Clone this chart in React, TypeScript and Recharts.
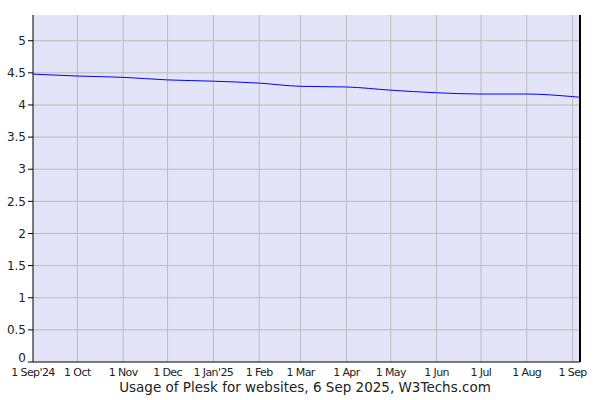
import React from 'react';
import {
  LineChart,
  Line,
  XAxis,
  YAxis,
  CartesianGrid,
  ReferenceLine,
} from 'recharts';

// Plesk usage share (% of websites)
const dates = [
  '2024-09-01', '2024-10-01', '2024-11-01', '2024-12-01', '2025-01-01', '2025-02-01',
  '2025-03-01', '2025-04-01', '2025-05-01', '2025-06-01', '2025-07-01', '2025-08-01',
  '2025-09-01', '2025-09-06',
];
const usage = [4.48, 4.45, 4.43, 4.39, 4.37, 4.34, 4.29, 4.28, 4.23, 4.19, 4.17, 4.17, 4.13, 4.12];

const tickDates = [
  '2024-09-01', '2024-10-01', '2024-11-01', '2024-12-01', '2025-01-01', '2025-02-01',
  '2025-03-01', '2025-04-01', '2025-05-01', '2025-06-01', '2025-07-01', '2025-08-01',
  '2025-09-01',
];
const tickLabels = [
  "1 Sep'24", '1 Oct', '1 Nov', '1 Dec', "1 Jan'25", '1 Feb',
  '1 Mar', '1 Apr', '1 May', '1 Jun', '1 Jul', '1 Aug', '1 Sep',
];
const yTicks = [0, 0.5, 1, 1.5, 2, 2.5, 3, 3.5, 4, 4.5, 5];

const start = Date.UTC(2024, 8, 1);
const dayOf = (s: string) => {
  const [y, m, d] = s.split('-').map(Number);
  return Math.round((Date.UTC(y, m - 1, d) - start) / 86400000);
};

const data = dates.map((d, i) => ({ day: dayOf(d), value: usage[i] }));
const xTicks = tickDates.map(dayOf);
const endDay = dayOf(dates[dates.length - 1]);

// y labels; the "0" sits a bit higher so it clears the date labels
const YTick = ({ x, y, payload }: any) => (
  <text
    x={x}
    y={payload.value === 0 ? y - 4 : y}
    dy="0.355em"
    textAnchor="end"
    fontSize={12}
    fill="#222"
    fontFamily="DejaVu Sans"
  >
    {payload.value}
  </text>
);

export default function App() {
  return (
    <div style={{ position: 'absolute', left: 0, top: 0, width: 600, height: 400, background: '#fff' }}>
      <LineChart
        width={600}
        height={400}
        data={data}
        margin={{ top: 15, right: 20, bottom: 24, left: 0 }}
      >
        <CartesianGrid fill="#e4e4f8" horizontal={false} vertical={false} />
        {yTicks.slice(1).map((t) => (
          <ReferenceLine key={`h${t}`} y={t} stroke="#bbbbbb" strokeWidth={1} />
        ))}
        {xTicks.slice(1).map((t) => (
          <ReferenceLine key={`v${t}`} x={t} stroke="#bbbbbb" strokeWidth={1} />
        ))}
        <XAxis
          type="number"
          dataKey="day"
          domain={[0, endDay]}
          ticks={xTicks}
          tickFormatter={(v: number) => tickLabels[xTicks.indexOf(v)] ?? ''}
          tickLine={false}
          axisLine={{ stroke: '#000' }}
          height={14}
          tickMargin={0}
          tick={{ fontSize: 11, fill: '#222', fontFamily: 'DejaVu Sans', letterSpacing: -0.6 }}
          interval={0}
          allowDataOverflow
        />
        <YAxis
          type="number"
          domain={[0, 5.4]}
          ticks={yTicks}
          width={33}
          tickSize={5}
          tickMargin={2}
          tickLine={{ stroke: '#000' }}
          axisLine={{ stroke: '#000' }}
          tick={<YTick />}
          interval={0}
          allowDataOverflow
        />
        <ReferenceLine x={endDay} stroke="#000" strokeWidth={2} />
        <Line
          type="monotone"
          dataKey="value"
          stroke="#0000ff"
          strokeWidth={1}
          dot={false}
          isAnimationActive={false}
        />
      </LineChart>
      <div
        style={{
          position: 'absolute',
          left: 0,
          width: 610,
          top: 380,
          textAlign: 'center',
          fontFamily: 'DejaVu Sans',
          fontSize: 13.5,
          lineHeight: '15px',
          color: '#222',
        }}
      >
        Usage of Plesk for websites, 6 Sep 2025, W3Techs.com
      </div>
    </div>
  );
}
